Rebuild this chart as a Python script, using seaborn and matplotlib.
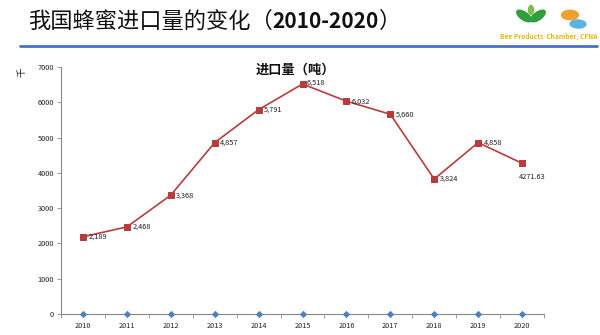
import matplotlib
matplotlib.use("Agg")
import matplotlib.pyplot as plt
import seaborn as sns
import pandas as pd
from matplotlib.lines import Line2D
from matplotlib.patches import Ellipse, Circle

sns.set_theme(style="white")
plt.rcParams['font.family'] = ['Noto Sans CJK SC', 'DejaVu Sans']

years = [2010, 2011, 2012, 2013, 2014, 2015, 2016, 2017, 2018, 2019, 2020]
imports = [2189, 2468, 3368, 4857, 5791, 6518, 6032, 5660, 3824, 4858, 4271.63]
labels = ["2,189", "2,468", "3,368", "4,857", "5,791", "6,518", "6,032", "5,660", "3,824", "4,858", "4271.63"]
baseline = [0] * len(years)
yticks = [0, 1000, 2000, 3000, 4000, 5000, 6000, 7000]

df = pd.DataFrame({"year": years, "imports": imports, "base": baseline})

W, H = 600, 335
fig = plt.figure(figsize=(6, 3.35), dpi=100)
ax = fig.add_axes([61/W, 1 - 314/H, (544 - 61)/W, (314 - 67)/H])

red = "#B83C3C"
blue = "#4F81BD"
sns.lineplot(data=df, x="year", y="imports", ax=ax, color=red, linewidth=1.2,
             marker="s", markersize=4.5, markeredgecolor=red, markerfacecolor=red)
sns.scatterplot(data=df, x="year", y="base", ax=ax, color=blue, marker="D", s=14,
                edgecolor=blue, linewidth=0, zorder=5, clip_on=False)

for x, y, t in zip(years, imports, labels):
    if t == "4271.63":
        ax.annotate(t, (x, y), xytext=(-2, -10), textcoords="offset points",
                    fontsize=5.3, color="#222222", va="center", ha="left")
    elif x == 2015:
        ax.annotate(t, (x, y), xytext=(3, 1), textcoords="offset points",
                    fontsize=5.3, color="#222222", va="center", ha="left")
    else:
        ax.annotate(t, (x, y), xytext=(4, 0), textcoords="offset points",
                    fontsize=5.3, color="#222222", va="center", ha="left")

ax.set_xlim(2009.5, 2020.5)
ax.set_ylim(0, 7000)
ax.set_xticks(years)
ax.set_xticklabels([str(y) for y in years], fontsize=5.3, color="#222222")
ax.set_xticks([y - 0.5 for y in years] + [2020.5], minor=True)
ax.set_yticks(yticks)
ax.set_yticklabels([str(v) for v in yticks], fontsize=5.3, color="#222222")
ax.tick_params(axis="x", which="major", length=0, pad=6)
ax.tick_params(axis="x", which="minor", length=3, width=0.6, color="#888888", direction="out", bottom=True)
ax.tick_params(axis="y", length=3, width=0.6, color="#888888", direction="out", left=True, pad=2)
ax.set_xlabel("")
ax.set_ylabel("")
for s in ["top", "right"]:
    ax.spines[s].set_visible(False)
for s in ["left", "bottom"]:
    ax.spines[s].set_color("#888888")
    ax.spines[s].set_linewidth(0.8)
ax.grid(False)

fig.text(22/W, 1 - 72/H, "千", fontsize=7, rotation=90, ha="center", va="center", color="#222222")
fig.text(295/W, 1 - 70/H, "进口量（吨）", fontsize=9.5, fontweight="bold", ha="center", va="center", color="#111111")

# Slide header, laid out piece by piece
renderer = fig.canvas.get_renderer()
xpos = 28
pieces = [("我国蜂蜜进口量的变化（", "normal", 16), ("2010-2020", "bold", 15), ("）", "normal", 16)]
for txt, wt, fs in pieces:
    t = fig.text(xpos / W, 1 - 21/H, txt, fontsize=fs, fontweight=wt, ha="left", va="center", color="#111111")
    bb = t.get_window_extent(renderer=renderer)
    xpos += bb.width
fig.add_artist(Line2D([20/W, 597/W], [1 - 46/H, 1 - 46/H], color="#4472C4", linewidth=2.0))
fig.text(549/W, 1 - 36/H, "Bee Products  Chamber, CFNA", fontsize=4.8, fontweight="bold",
         ha="center", va="center", color="#E8B800")

# simple logo marks
logo = [
    Ellipse((524/W, 1 - 16/H), 10/W, 13/H, angle=30, color="#2E9E3E"),
    Ellipse((538/W, 1 - 16/H), 10/W, 13/H, angle=-30, color="#2E9E3E"),
    Ellipse((531/W, 1 - 10/H), 5/W, 9/H, color="#7BBF4A"),
    Circle((570/W, 1 - 15/H), 0.014, color="#F0A030"),
    Ellipse((578/W, 1 - 24/H), 16/W, 8/H, angle=-20, color="#5AB4E0"),
]
for p in logo:
    p.set_transform(fig.transFigure)
    fig.add_artist(p)

fig.savefig("out.png", dpi=100)
